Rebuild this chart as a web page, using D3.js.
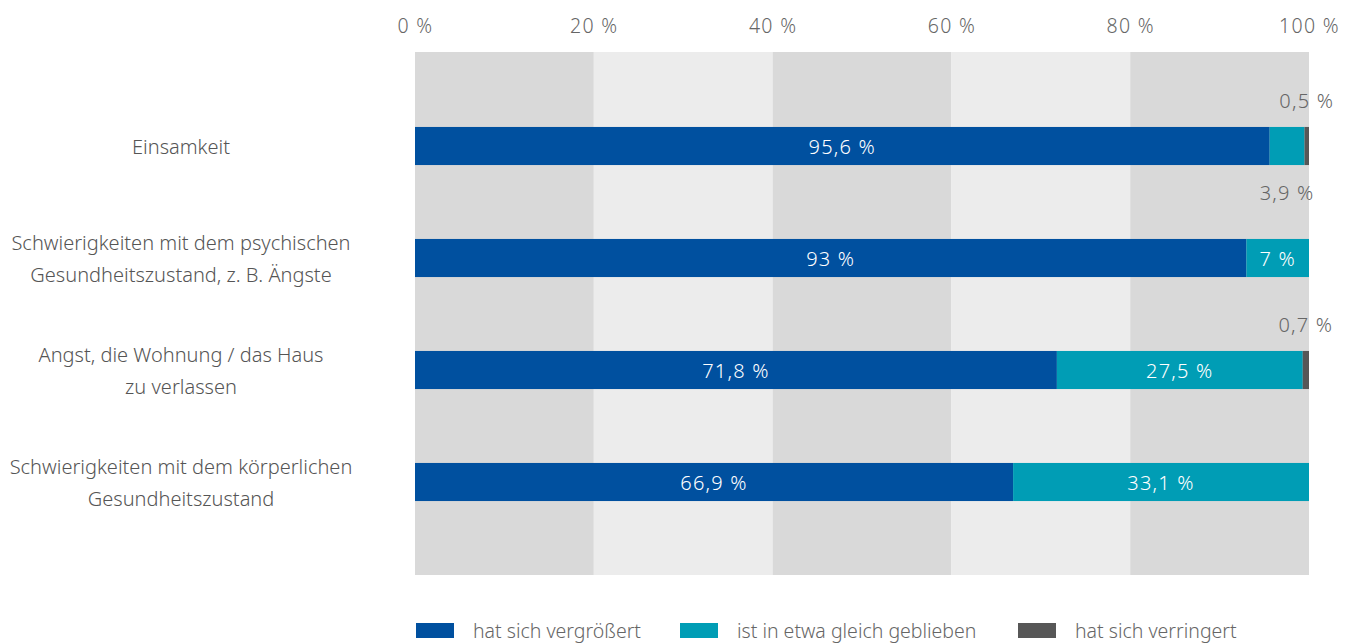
<!DOCTYPE html>
<html>
<head>
<meta charset="UTF-8">
<title></title>
<script src="https://d3js.org/d3.v7.min.js"></script>
<style>
  body { margin: 0; background: #fff; }
  text { font-family: "Noto Sans", "Open Sans", sans-serif; font-weight: 300; }
</style>
</head>
<body>
<div id="svg"></div>
<script>
const categories = [
  ["Einsamkeit"],
  ["Schwierigkeiten mit dem psychischen", "Gesundheitszustand, z. B. Ängste"],
  ["Angst, die Wohnung / das Haus", "zu verlassen"],
  ["Schwierigkeiten mit dem körperlichen", "Gesundheitszustand"]
]
const seriesNames = ["hat sich vergrößert", "ist in etwa gleich geblieben", "hat sich verringert"]
const grown = [95.6, 93, 71.8, 66.9]
const same = [3.9, 7, 27.5, 33.1]
const fewer = [0.5, 0, 0.7, 0]
const ticks = [0, 20, 40, 60, 80, 100]

const colors = ["#00509f", "#009db5", "#575757"]
const width = 1357, height = 644
const svg = d3.select("#svg").append("svg").attr("width", width).attr("height", height)

const x = d3.scaleLinear().domain([0, 100]).range([415, 1309])
const keys = categories.map((c, i) => i)
const y = d3.scaleBand().domain(keys).range([90, 538]).paddingInner(0.66).paddingOuter(0.33)
const plotTop = 52, plotBottom = 575

const fmt = v => String(v).replace(".", ",") + " %"

// hintergrund streifen
svg.append("g").selectAll("rect").data(d3.pairs(ticks)).enter().append("rect")
  .attr("x", d => x(d[0])).attr("width", d => x(d[1]) - x(d[0]))
  .attr("y", plotTop).attr("height", plotBottom - plotTop)
  .attr("fill", (d, i) => i % 2 ? "#ececec" : "#d9d9d9")

// achse oben
const xAxis = d3.axisTop(x).tickValues(ticks).tickFormat(d => d + " %").tickSize(0).tickPadding(0)
const gX = svg.append("g").attr("transform", "translate(0,33)").call(xAxis)
gX.select(".domain").remove()
gX.selectAll("text").attr("font-size", 19.5).attr("letter-spacing", 1.3)
  .attr("fill", "#666").attr("font-family", null)

// gestapelte daten
const rows = keys.map(i => ({ i, values: [grown[i], same[i], fewer[i]] }))
const segs = []
rows.forEach(r => {
  let acc = 0
  r.values.forEach((v, s) => {
    segs.push({ row: r.i, s, v, x0: acc, x1: acc + v })
    acc += v
  })
})
const visible = segs.filter(d => d.v > 0)

svg.append("g").selectAll("rect").data(visible).enter().append("rect")
  .attr("x", d => x(d.x0)).attr("width", d => x(d.x1) - x(d.x0))
  .attr("y", d => y(d.row)).attr("height", y.bandwidth())
  .attr("fill", d => colors[d.s])

// beschriftung: innen wenn breit genug, sonst oben/unten
const big = visible.filter(d => d.v >= 5)
const small = visible.filter(d => d.v < 5)
svg.append("g").selectAll("text").data(big).enter().append("text")
  .attr("x", d => x((d.x0 + d.x1) / 2))
  .attr("y", d => y(d.row) + y.bandwidth() / 2 + 1)
  .attr("dy", "0.35em").attr("text-anchor", "middle")
  .attr("font-size", 20).attr("letter-spacing", 1.2).attr("fill", "#fff")
  .text(d => fmt(d.v))

svg.append("g").selectAll("text").data(small).enter().append("text")
  .attr("x", d => x((d.x0 + d.x1) / 2))
  .attr("y", d => y(d.row) + y.bandwidth() / 2 + (d.s === 2 ? -45 : 47))
  .attr("dy", "0.35em").attr("text-anchor", "middle")
  .attr("font-size", 20).attr("letter-spacing", 1.2).attr("fill", "#666")
  .text(d => fmt(d.v))

// kategorien
const lab = svg.append("g").selectAll("text").data(rows).enter().append("text")
  .attr("text-anchor", "middle").attr("font-size", 20).attr("fill", "#555")
  .attr("x", 181)
  .attr("y", d => y(d.i) + y.bandwidth() / 2 + 1 - (categories[d.i].length - 1) * 16)
lab.selectAll("tspan").data(d => categories[d.i]).enter().append("tspan")
  .attr("x", 181).attr("dy", (d, j) => j === 0 ? "0.35em" : 32)
  .text(d => d)

// legende
const legX = [416, 680, 1018]
const leg = svg.append("g").selectAll("g").data(seriesNames).enter().append("g")
  .attr("transform", (d, i) => `translate(${legX[i]},623)`)
leg.append("rect").attr("width", 38).attr("height", 15).attr("fill", (d, i) => colors[i])
leg.append("text").attr("x", 57).attr("y", 8).attr("dy", "0.35em")
  .attr("font-size", 19.5).attr("fill", "#666").text(d => d)
</script>
</body>
</html>
